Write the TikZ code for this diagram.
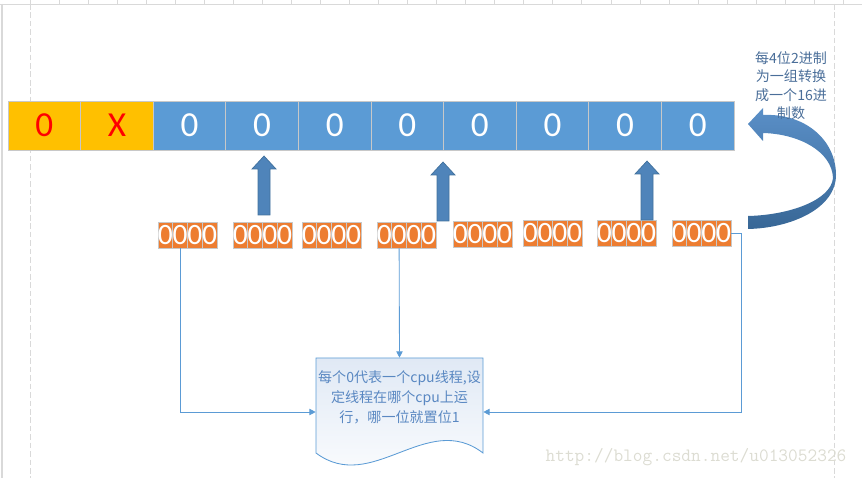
\documentclass[tikz,border=0pt]{standalone}
\usepackage{fontspec}
\setmainfont{Carlito}
\newfontfamily\cjkfont{Noto Sans CJK SC}
\usetikzlibrary{arrows.meta}
\definecolor{barblue}{HTML}{5B9BD5}
\definecolor{baryellow}{HTML}{FFC000}
\definecolor{bitorange}{HTML}{ED7D31}
\definecolor{cellgray}{HTML}{C8C8C8}
\definecolor{arrowblue}{HTML}{4F84BA}
\definecolor{arrowedge}{HTML}{41719C}
\definecolor{curvetop}{HTML}{5A8FC7}
\definecolor{curvebottom}{HTML}{386796}
\definecolor{noteblue}{HTML}{4A6E99}
\definecolor{textblue}{HTML}{5A88C2}
\definecolor{docfill}{HTML}{E0E9F5}
\definecolor{gridgray}{HTML}{D9D9D9}
\definecolor{markgray}{HTML}{DCDCD2}
\begin{document}
\begin{tikzpicture}[x=0.025cm,y=-0.025cm,
  barcell/.style={draw=cellgray,line width=0.6pt,minimum width=1.815cm,minimum height=1.225cm,inner sep=0pt,font=\fontsize{25}{25}\selectfont},
  bitcell/.style={draw=cellgray,line width=0.5pt,fill=bitorange,text=white,minimum width=0.369cm,minimum height=0.65cm,inner sep=0pt,font=\fontsize{21}{21}\selectfont},
  blockarrow/.style={fill=arrowblue,draw=arrowedge,line width=0.5pt},
  link/.style={draw=barblue,line width=0.6pt,-{Triangle[length=4.5pt,width=4.5pt]}},
  notetext/.style={text=noteblue,align=center,font=\cjkfont\fontsize{10}{13}\selectfont},
  doctext/.style={text=textblue,align=center,font=\cjkfont\fontsize{10}{14.2}\selectfont,minimum width=4.175cm,minimum height=1.975cm,inner sep=1pt},
  watermark/.style={text=markgray,font=\ttfamily\fontsize{13.4}{13.4}\selectfont,inner sep=0pt}]
\useasboundingbox (0,0) rectangle (862,478);

\draw[gridgray] (0,4) -- (862,4);
\foreach \i in {0,...,28}
  \draw[gridgray] ({30+29.04*\i},0) -- ({30+29.04*\i},4);
\draw[gridgray,line width=0.8pt] (2,4) -- (2,478);
\draw[gridgray,dash pattern=on 4pt off 2pt] (30,4) -- (30,478);
\draw[gridgray,dash pattern=on 4pt off 2pt] (834,4) -- (834,478);

\foreach \t/\f/\c [count=\i] in {0/baryellow/red,X/baryellow/red,0/barblue/white,0/barblue/white,0/barblue/white,0/barblue/white,0/barblue/white,0/barblue/white,0/barblue/white,0/barblue/white}
  \node[barcell,fill=\f,text=\c] (c\i) at ({8+72.6*(\i-0.5)},125.5) {\t};

\foreach \gx/\gy [count=\g] in {158/235,233/235,302/235,377/235,453/234.5,523/233,597/233,672/233}
  \foreach \k in {1,...,4}
    \node[bitcell] (b\g-\k) at ({\gx+14.75*(\k-0.5)},\gy) {0};

\foreach \ax/\atip/\abot in {264/156/215,443/162/221,647/161/220}
  \draw[blockarrow] (\ax-6,\abot) -- (\ax-6,\atip+13) -- (\ax-12,\atip+13) -- (\ax,\atip)
    -- (\ax+12,\atip+13) -- (\ax+6,\atip+13) -- (\ax+6,\abot) -- cycle;

\shade[top color=curvetop,bottom color=curvebottom] (748,124) -- (763,108) -- (763,115)
  .. controls (805,113) and (836,140) .. (836,175)
  .. controls (836,208) and (792,228) .. (748,229) -- (748,216)
  .. controls (790,215) and (831,200) .. (833,178)
  .. controls (832,152) and (800,134) .. (763,133) -- (763,141) -- cycle;

\node[notetext] (note) at (791,85.5) {每4位2进制\\为一组转换\\成一个16进\\制数};

\shade[top color=docfill,bottom color=white,draw=barblue,line width=0.6pt] (316,358) -- (483,358) -- (483,453)
  .. controls (427,410) and (372,495) .. (316,453) -- cycle;
\node[doctext] (doc) at (399.5,397.5) {每个0代表一个cpu线程,设\\定线程在哪个cpu上运\\行，哪一位就置位1};

\draw[link] (b1-2.south) |- ([yshift=-0.3625cm]doc.west);
\draw[link] (b4-2.south) -- (doc.north);
\draw[link] (b8-4.east) -- ++(10,0) |- ([yshift=-0.3625cm]doc.east);

\node[watermark] (mark) at (696,457) {http://blog.csdn.net/u013052326};
\end{tikzpicture}
\end{document}
